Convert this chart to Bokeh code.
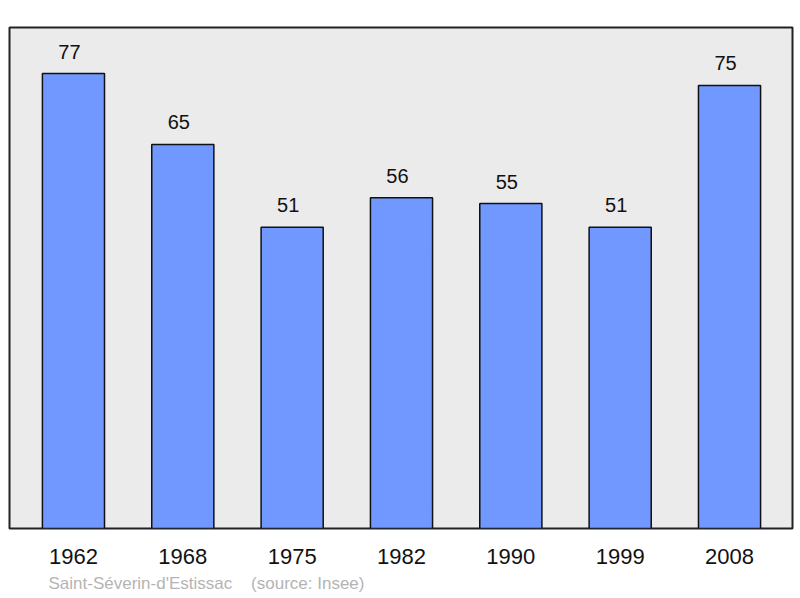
from bokeh.plotting import figure
from bokeh.models import ColumnDataSource, Range1d, FixedTicker, Title
from bokeh.core.properties import value
from bokeh.embed import file_html
from bokeh.resources import INLINE

years = ["1962", "1968", "1975", "1982", "1990", "1999", "2008"]
population = [77, 65, 51, 56, 55, 51, 75]
source_text = "Saint-Séverin-d'Estissac\u00a0\u00a0\u00a0\u00a0(source: Insee)"

idx = list(range(len(years)))
src = ColumnDataSource(dict(x=idx, top=population, label=[str(v) for v in population]))

FONT = "Liberation Sans"

p = figure(width=800, height=598, output_backend="svg", toolbar_location=None,
           x_range=Range1d(-0.585, 6.576), y_range=Range1d(0, 84.8),
           y_axis_location=None,
           min_border_left=9, min_border_right=8, min_border_top=27, min_border_bottom=70)

p.background_fill_color = "#ebebeb"
p.border_fill_color = "white"
p.outline_line_color = "#222222"
p.outline_line_width = 2
p.xgrid.visible = False
p.ygrid.visible = False

p.vbar(x="x", top="top", bottom=0, width=0.568, source=src,
       fill_color="#7098ff", line_color="#111111", line_width=1.5)

p.text(x="x", y="top", text="label", source=src,
       text_font=value(FONT), text_font_size="20px", text_color="#111111",
       text_align="center", text_baseline="alphabetic", x_offset=-4, y_offset=-22)

ax = p.xaxis[0]
ax.ticker = FixedTicker(ticks=idx)
ax.major_label_overrides = {i: y for i, y in zip(idx, years)}
ax.axis_line_color = None
ax.major_tick_line_color = None
ax.minor_tick_line_color = None
ax.major_label_text_font = FONT
ax.major_label_text_font_size = "22px"
ax.major_label_text_color = "#111111"
ax.major_label_standoff = 14

t = Title(text=source_text, align="left", offset=39, text_font=FONT,
          text_font_size="17px", text_font_style="normal", text_color="#b4b4b4", standoff=10)
p.add_layout(t, "below")

open("out.html", "w").write(file_html(p, INLINE))
